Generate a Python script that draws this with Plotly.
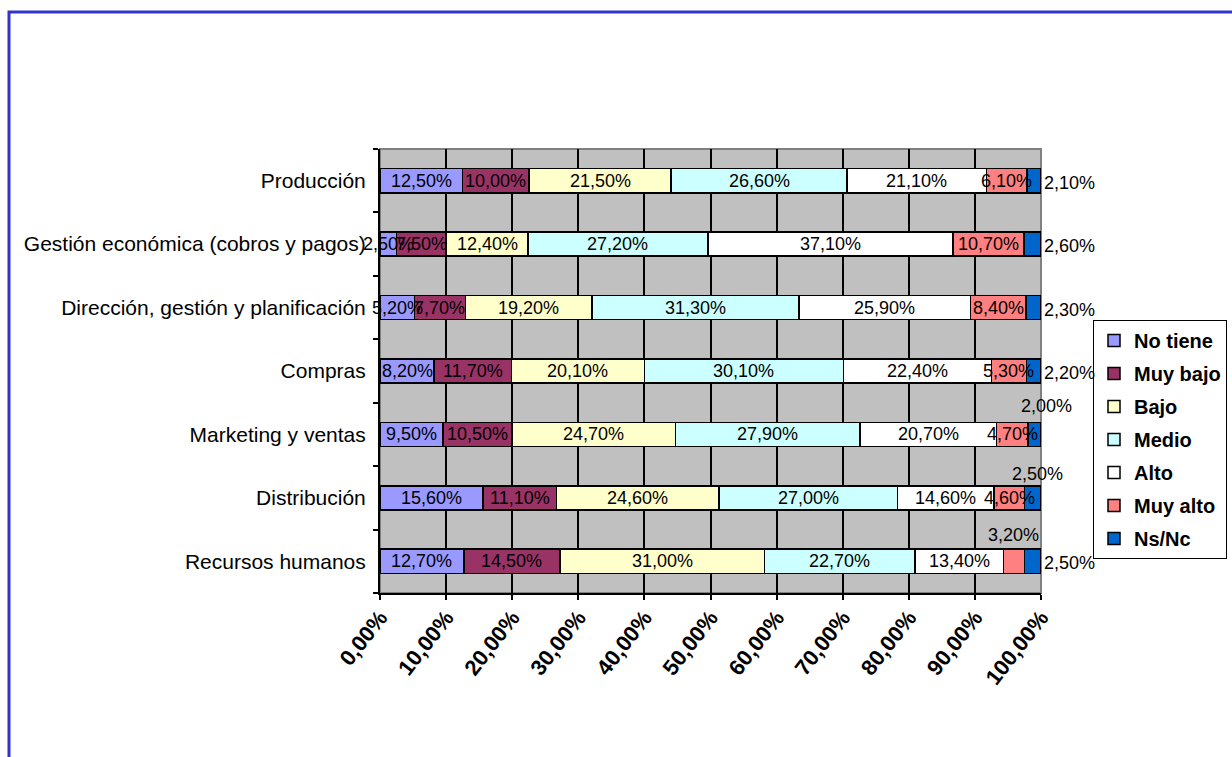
import plotly.graph_objects as go

# Areas of the company (top to bottom as displayed)
categories = [
    "Producción",
    "Gestión económica (cobros y pagos)",
    "Dirección, gestión y planificación",
    "Compras",
    "Marketing y ventas",
    "Distribución",
    "Recursos humanos",
]

series_names = ["No tiene", "Muy bajo", "Bajo", "Medio", "Alto", "Muy alto", "Ns/Nc"]

# Percentages per area for each level
no_tiene = [12.5, 2.5, 5.2, 8.2, 9.5, 15.6, 12.7]
muy_bajo = [10.0, 7.5, 7.7, 11.7, 10.5, 11.1, 14.5]
bajo = [21.5, 12.4, 19.2, 20.1, 24.7, 24.6, 31.0]
medio = [26.6, 27.2, 31.3, 30.1, 27.9, 27.0, 22.7]
alto = [21.1, 37.1, 25.9, 22.4, 20.7, 14.6, 13.4]
muy_alto = [6.1, 10.7, 8.4, 5.3, 4.7, 4.6, 3.2]
ns_nc = [2.1, 2.6, 2.3, 2.2, 2.0, 2.5, 2.5]

x_tick_values = [0, 10, 20, 30, 40, 50, 60, 70, 80, 90, 100]
x_tick_labels = ["0,00%", "10,00%", "20,00%", "30,00%", "40,00%", "50,00%",
                 "60,00%", "70,00%", "80,00%", "90,00%", "100,00%"]

series_values = [no_tiene, muy_bajo, bajo, medio, alto, muy_alto, ns_nc]
series_colors = ["#9999FF", "#993366", "#FFFFCC", "#CCFFFF", "#FFFFFF", "#FF8080", "#0066CC"]

FONT = "Liberation Sans, Arial, sans-serif"

# Label placement: Ns/Nc labels sit right of the bar; a few are lifted above it
lifted_labels = {
    ("Ns/Nc", "Marketing y ventas"): (12, 28),
    ("Ns/Nc", "Distribución"): (5, 24),
    ("Muy alto", "Recursos humanos"): (0, 26),
}

fig = go.Figure()
for name, vals, color in zip(series_names, series_values, series_colors):
    fig.add_trace(go.Bar(
        name=name,
        legendgroup=name,
        y=categories,
        x=vals,
        orientation="h",
        width=0.38,
        marker=dict(color=color, line=dict(color="black", width=1.5)),
        hoverinfo="x+name",
    ))


def fmt(v):
    return f"{v:.2f}".replace(".", ",") + "%"


label_font = dict(family=FONT, size=18, color="black")
annotations = []
for ci, cat in enumerate(categories):
    total = sum(s[ci] for s in series_values)
    start = 0.0
    for name, vals in zip(series_names, series_values):
        v = vals[ci]
        seg = v / total * 100.0
        mid = start + seg / 2.0
        end = min(start + seg, 100.0)
        key = (name, cat)
        if key in lifted_labels:
            dx, dy = lifted_labels[key]
            annotations.append(dict(x=mid, y=cat, xref="x", yref="y", text=fmt(v),
                                    showarrow=False, xshift=dx, yshift=dy, font=label_font))
        elif name == "Ns/Nc":
            annotations.append(dict(x=end, y=cat, xref="x", yref="y", text=fmt(v),
                                    showarrow=False, xanchor="left", xshift=1, yshift=-2,
                                    font=label_font))
        else:
            annotations.append(dict(x=mid, y=cat, xref="x", yref="y", text=fmt(v),
                                    showarrow=False, font=label_font))
        start = end

L, R, T, B = 380, 191, 149, 164
W, H = 1232, 757
pw, ph = W - L - R, H - T - B

shapes = [
    # plot-area frame (grey top/right edges)
    dict(type="rect", xref="paper", yref="paper", x0=0, x1=1, y0=0, y1=1,
         line=dict(color="#808080", width=2), layer="below"),
    # outer blue frame
    dict(type="rect", xref="paper", yref="paper",
         x0=(9 - L) / pw, x1=2.0, y0=-1.0, y1=(H - B - 12) / ph,
         line=dict(color="#3333CC", width=3), fillcolor="rgba(0,0,0,0)"),
]

fig.update_layout(
    width=W, height=H, autosize=False,
    barmode="stack", barnorm="percent",
    plot_bgcolor="#C0C0C0", paper_bgcolor="white",
    margin=dict(l=L, r=R, t=T, b=B, autoexpand=False),
    font=dict(family=FONT, size=18, color="black"),
    showlegend=True,
    legend=dict(
        x=(1093 - L) / pw, y=(H - B - 320) / ph, xanchor="left", yanchor="top",
        bgcolor="white", bordercolor="black", borderwidth=1,
        traceorder="grouped", tracegroupgap=4, itemwidth=30,
        font=dict(family=FONT, size=20, color="black", weight="bold"),
    ),
    xaxis=dict(
        range=[0, 100], tickmode="array", tickvals=x_tick_values, ticktext=x_tick_labels,
        tickangle=-52, ticks="outside", ticklen=5, tickwidth=2, tickcolor="black",
        ticklabelstandoff=-4,
        showgrid=True, gridcolor="black", gridwidth=2, zeroline=False,
        showline=True, linecolor="black", linewidth=2,
        tickfont=dict(family=FONT, size=22, color="black", weight="bold"),
        fixedrange=True,
    ),
    yaxis=dict(
        type="category", categoryorder="array", categoryarray=categories[::-1],
        tickson="boundaries", ticks="outside", ticklen=5, tickwidth=2, tickcolor="black",
        showgrid=False, showline=True, linecolor="black", linewidth=2,
        ticklabelstandoff=8,
        tickfont=dict(family=FONT, size=21, color="black"),
        fixedrange=True,
    ),
    annotations=annotations,
    shapes=shapes,
)

fig.write_html("out.html")
